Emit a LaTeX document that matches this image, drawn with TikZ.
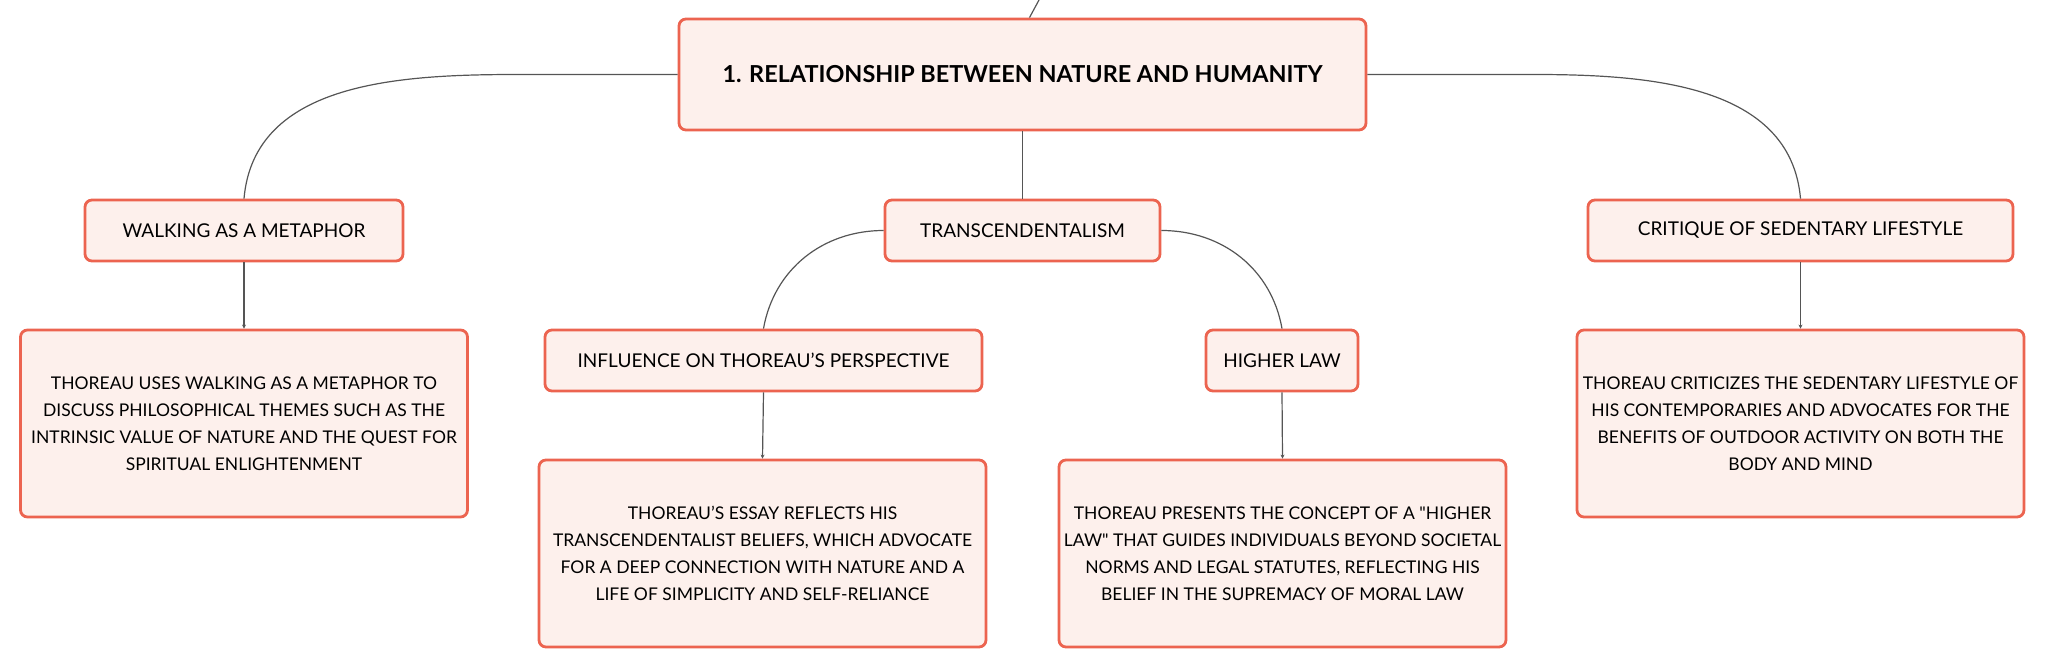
\documentclass[tikz,border=0pt]{standalone}
\usepackage{fontspec}
\setmainfont{Lato}[Ligatures=TeXOff]
\usetikzlibrary{arrows.meta}
\definecolor{boxline}{HTML}{EC6450}
\definecolor{boxfill}{HTML}{FDF0EC}
\definecolor{linkgray}{HTML}{555555}

\begin{document}
\begin{tikzpicture}[x=0.5pt,y=-0.5pt,
  topic/.style={draw=boxline, fill=boxfill, line width=1.4pt, rounded corners=3.5pt, align=center, inner sep=0pt},
  sub/.style={topic, minimum height=30.5pt, font=\fontsize{9.5}{12}\selectfont},
  info/.style={topic, minimum width=223.5pt, minimum height=93.5pt, font=\fontsize{8.75}{13.5}\selectfont},
  link/.style={draw=linkgray, line width=0.6pt},
  tip/.style={link, -{Stealth[length=2pt,width=2pt]}}]
\useasboundingbox (0,0) rectangle (2046,667);

\node[topic, minimum width=343.5pt, minimum height=55.5pt, font=\fontsize{11.7}{14}\selectfont\bfseries] (root) at (1022.5,74.5) {1. RELATIONSHIP BETWEEN NATURE AND HUMANITY};

\node[sub, minimum width=159pt] (walk) at (244,230.5) {WALKING AS A METAPHOR};
\node[sub, minimum width=137.5pt] (trans) at (1022.5,230.5) {TRANSCENDENTALISM};
\node[sub, minimum width=212.5pt] (crit) at (1800.5,230.5) {CRITIQUE OF SEDENTARY LIFESTYLE};
\node[sub, minimum width=218.5pt] (infl) at (763.5,360.5) {INFLUENCE ON THOREAU’S PERSPECTIVE};
\node[sub, minimum width=76pt] (hlaw) at (1282,360.5) {HIGHER LAW};

\node[info] (walkinfo) at (244,423.5) {THOREAU USES WALKING AS A METAPHOR TO\\DISCUSS PHILOSOPHICAL THEMES SUCH AS THE\\INTRINSIC VALUE OF NATURE AND THE QUEST FOR\\SPIRITUAL ENLIGHTENMENT};
\node[info] (critinfo) at (1800.5,423.5) {THOREAU CRITICIZES THE SEDENTARY LIFESTYLE OF\\HIS CONTEMPORARIES AND ADVOCATES FOR THE\\BENEFITS OF OUTDOOR ACTIVITY ON BOTH THE\\BODY AND MIND};
\node[info] (inflinfo) at (762.5,553.5) {THOREAU’S ESSAY REFLECTS HIS\\TRANSCENDENTALIST BELIEFS, WHICH ADVOCATE\\FOR A DEEP CONNECTION WITH NATURE AND A\\LIFE OF SIMPLICITY AND SELF-RELIANCE};
\node[info] (hlawinfo) at (1282.5,553.5) {THOREAU PRESENTS THE CONCEPT OF A "HIGHER\\LAW" THAT GUIDES INDIVIDUALS BEYOND SOCIETAL\\NORMS AND LEGAL STATUTES, REFLECTING HIS\\BELIEF IN THE SUPREMACY OF MORAL LAW};

% links from the main topic
\coordinate (up) at (1039,0);
\draw[link] (up) -- (root.83);
\draw[link] (root.west) -- ++(-158,0) to[out=180,in=85] (walk.north);
\draw[link] (root.east) -- ++(166,0) to[out=0,in=95] (crit.north);
\draw[link] (root.south) -- (trans.north);
\draw[link] (trans.west) to[out=180,in=80] (infl.north);
\draw[link] (trans.east) to[out=0,in=100] (hlaw.north);

% details
\draw[tip] (walk.south) -- (walkinfo.north);
\draw[tip] (crit.south) -- (critinfo.north);
\draw[tip] (infl.south) -- (inflinfo.north);
\draw[tip] (hlaw.south) -- (hlawinfo.north);

\end{tikzpicture}
\end{document}
